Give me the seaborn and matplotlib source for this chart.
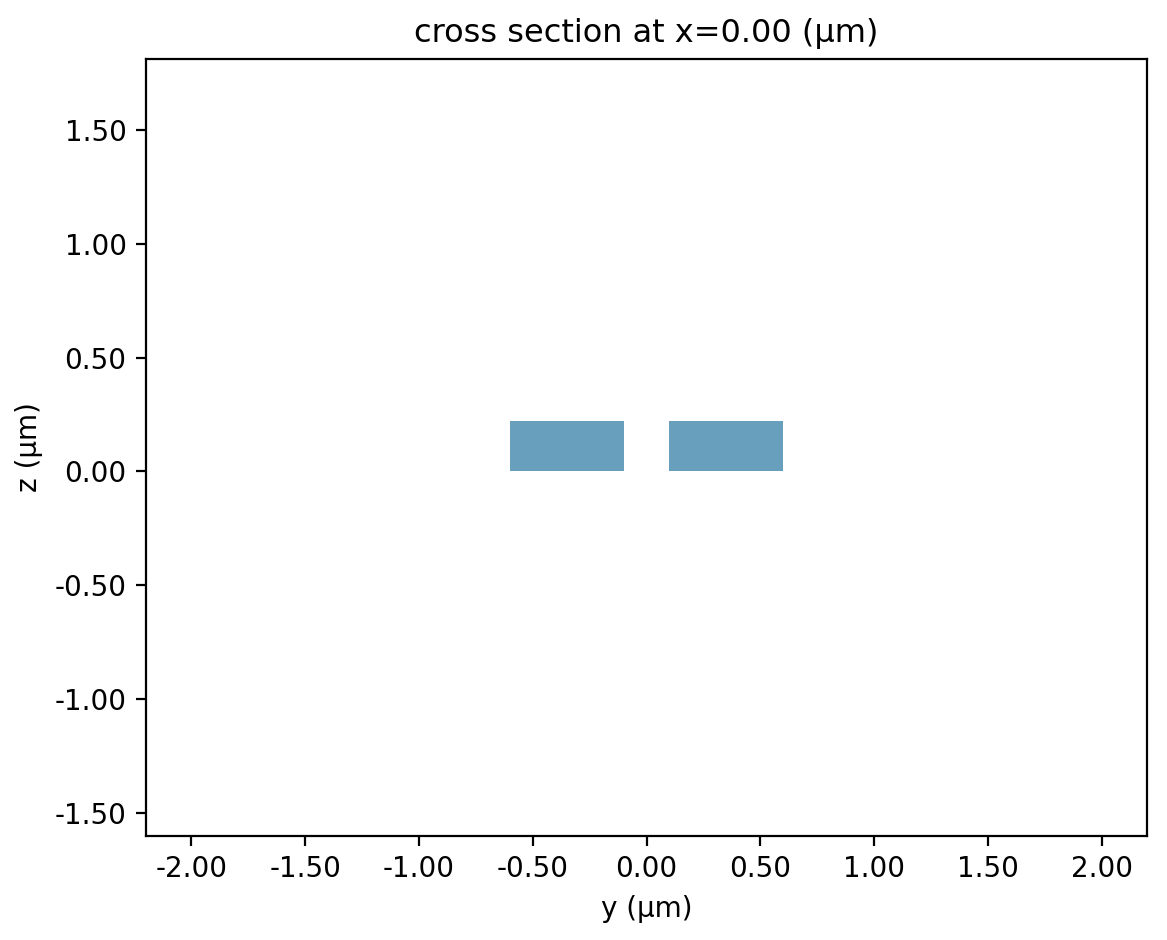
import matplotlib
matplotlib.use("Agg")
import matplotlib.pyplot as plt
import seaborn as sns
from matplotlib.ticker import FormatStrFormatter

sns.set_theme(style="white")
plt.rcParams['font.family'] = ['DejaVu Sans']

# waveguide rectangles (um)
y_min = [-0.6, 0.1]
y_max = [-0.1, 0.6]
z_min = [0.0, 0.0]
z_max = [0.22, 0.22]
x_ticks = [-2.0, -1.5, -1.0, -0.5, 0.0, 0.5, 1.0, 1.5, 2.0]
y_ticks = [-1.5, -1.0, -0.5, 0.0, 0.5, 1.0, 1.5]

fig = plt.figure(figsize=(5.835, 4.7), dpi=200)
ax = fig.add_axes([0.1251, 0.1106, 0.8578, 0.8266])
for a, b, c, d in zip(y_min, y_max, z_min, z_max):
    ax.bar((a + b) / 2, d - c, width=b - a, bottom=c, color="#689FBC", edgecolor="none")
ax.set_xlim(-2.2, 2.2)
ax.set_ylim(-1.6, 1.81)
ax.set_xticks(x_ticks)
ax.set_yticks(y_ticks)
ax.xaxis.set_major_formatter(FormatStrFormatter('%.2f'))
ax.yaxis.set_major_formatter(FormatStrFormatter('%.2f'))
ax.tick_params(axis='both', labelsize=10, length=3.5, width=0.8, direction='out', bottom=True, left=True, colors='black')
for s in ax.spines.values():
    s.set_color('black'); s.set_linewidth(0.8)
ax.set_xlabel("y (μm)", fontsize=10, color='black')
ax.set_ylabel("z (μm)", fontsize=10, color='black')
ax.set_title("cross section at x=0.00 (μm)", fontsize=11.5, color='black')
fig.savefig("out.png", dpi=200)
